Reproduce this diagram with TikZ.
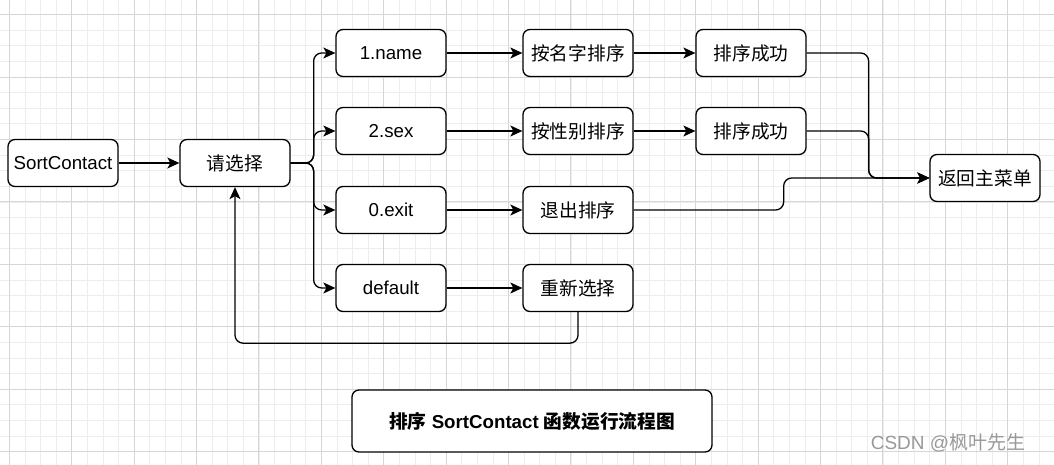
\documentclass[tikz,border=0pt]{standalone}
\usepackage{fontspec}
\setmainfont{Liberation Sans}
\newfontfamily\cjk{Noto Sans CJK SC}
\usetikzlibrary{arrows.meta}

\tikzset{
  box/.style={draw, line width=1.3pt, rounded corners=7pt, fill=white,
    minimum width=110pt, minimum height=47pt, inner sep=0pt,
    font=\fontsize{18.7}{22}\selectfont},
  link/.style={line width=1.3pt, rounded corners=8pt,
    -{Stealth[length=12pt,width=11pt,inset=3pt]}},
  finegrid/.style={draw=black!7, line width=0.8pt},
  coarsegrid/.style={draw=black!16, line width=1pt}
}

\begin{document}
\begin{tikzpicture}[x=1pt, y=-1pt]
	\useasboundingbox[fill=white] (0,0) rectangle (1054,465);
	
	% Raster
	\foreach \i in {0,...,68} \draw[finegrid] ({-6.3+15.6*\i},0) -- ++(0,465);
	\foreach \j in {0,...,30} \draw[finegrid] (0,{-0.9+15.6*\j}) -- ++(1054,0);
	\foreach \i in {0,...,16} \draw[coarsegrid] ({9.3+62.4*\i},0) -- ++(0,465);
	\foreach \j in {0,...,7} \draw[coarsegrid] (0,{14.7+62.4*\j}) -- ++(1054,0);
	
	% Blocchi
	\node[box] (sortc) at (63, 163) {SortContact};
	\node[box] (choose) at (235, 163) {\cjk 请选择};
	
	\node[box] (optname) at (391, 53) {1.name};
	\node[box] (optsex) at (391, 131) {2.sex};
	\node[box] (optexit) at (391, 210) {0.exit};
	\node[box] (optdef) at (391, 288) {default};
	
	\node[box] (byname) at (578, 53) {\cjk 按名字排序};
	\node[box] (bysex) at (578, 131) {\cjk 按性别排序};
	\node[box] (quit) at (578, 210) {\cjk 退出排序};
	\node[box] (again) at (578, 288) {\cjk 重新选择};
	
	\node[box] (okname) at (751, 53) {\cjk 排序成功};
	\node[box] (oksex) at (751, 131) {\cjk 排序成功};
	\node[box] (back) at (985, 178) {\cjk 返回主菜单};
	
	% Collegamenti
	\draw[link] (sortc) -- (choose);
	\draw[link] (choose.east) -- ++(23,0) |- (optname.west);
	\draw[link] (choose.east) -- ++(23,0) |- (optsex.west);
	\draw[link] (choose.east) -- ++(23,0) |- (optexit.west);
	\draw[link] (choose.east) -- ++(23,0) |- (optdef.west);
	
	\draw[link] (optname) -- (byname);
	\draw[link] (optsex) -- (bysex);
	\draw[link] (optexit) -- (quit);
	\draw[link] (optdef) -- (again);
	
	\draw[link] (byname) -- (okname);
	\draw[link] (bysex) -- (oksex);
	
	\draw[link] (okname.east) -- ++(62,0) |- (back.west);
	\draw[link] (oksex.east) -- ++(62,0) |- (back.west);
	\draw[link] (quit.east) -- ++(150,0) |- (back.west);
	\draw[link] (again.south) -- ++(0,31) -| (choose.south);
	
	% Titolo
	\node[box, minimum width=360pt, minimum height=62pt, font=\fontsize{18.7}{22}\selectfont\bfseries] (title) at (532, 421)
		{{\cjk 排序} SortContact {\cjk 函数运行流程图}};
	\node[text=black!40, font=\fontsize{19}{22}\selectfont] (mark) at (948, 443) {CSDN @{\cjk 枫叶先生}};
\end{tikzpicture}
\end{document}
